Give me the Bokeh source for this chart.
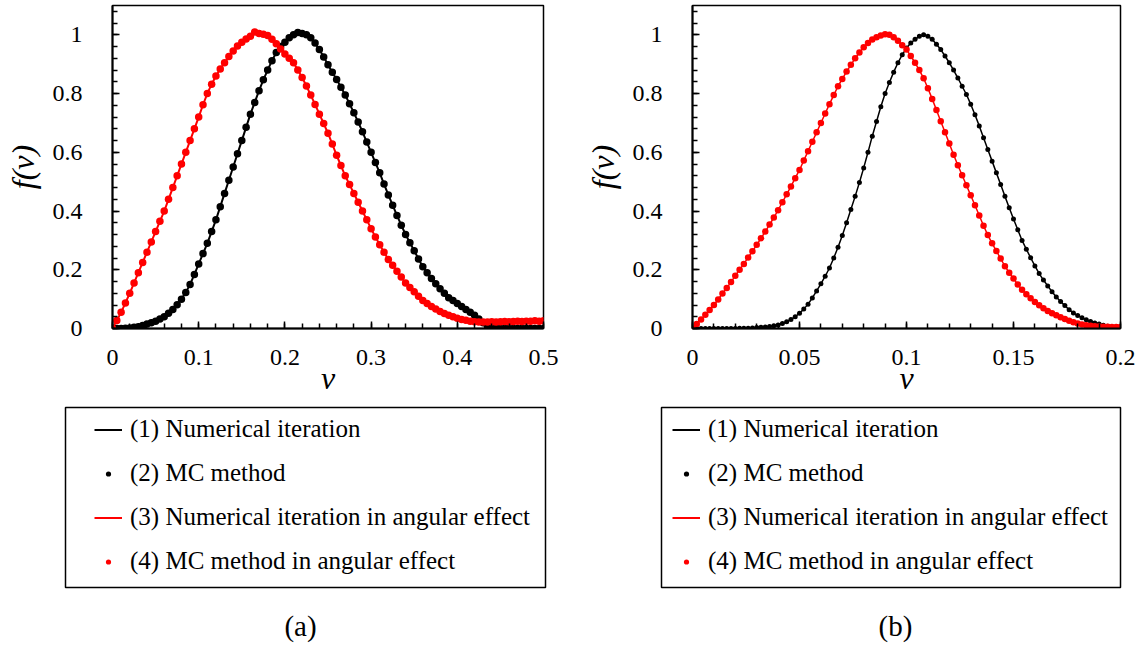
from bokeh.plotting import figure
from bokeh.models import (Range1d, FixedTicker, CustomJSTickFormatter, Legend,
                          LegendItem, Label)
from bokeh.layouts import row, column
from bokeh.embed import file_html
from bokeh.resources import INLINE

FONT = "Liberation Serif"

# ---------------- data: panel (a) ----------------
v_a = [round(i * 0.005, 3) for i in range(101)]
num_a = [
    0.000, 0.000, 0.000, 0.001, 0.002, 0.004, 0.006, 0.010, 0.015, 0.020,
    0.025, 0.032, 0.040, 0.052, 0.065, 0.081, 0.100, 0.123, 0.150, 0.184,
    0.220, 0.255, 0.290, 0.330, 0.370, 0.415, 0.460, 0.505, 0.550, 0.595,
    0.640, 0.685, 0.730, 0.770, 0.810, 0.847, 0.880, 0.912, 0.940, 0.960,
    0.975, 0.990, 1.000, 1.008, 1.005, 1.000, 0.990, 0.972, 0.950, 0.925,
    0.898, 0.873, 0.848, 0.822, 0.795, 0.765, 0.735, 0.703, 0.670, 0.635,
    0.600, 0.565, 0.530, 0.492, 0.455, 0.420, 0.385, 0.352, 0.320, 0.292,
    0.265, 0.237, 0.210, 0.190, 0.170, 0.152, 0.135, 0.120, 0.105, 0.095,
    0.085, 0.075, 0.065, 0.055, 0.045, 0.032, 0.020, 0.008, 0.000, 0.000,
    0.000, 0.000, 0.000, 0.000, 0.000, 0.000, 0.000, 0.000, 0.000, 0.000,
    0.000,
]
mc_a = list(num_a)
num_ang_a = [
    0.000, 0.027, 0.055, 0.087, 0.120, 0.155, 0.190, 0.225, 0.260, 0.295,
    0.330, 0.365, 0.400, 0.440, 0.480, 0.520, 0.560, 0.600, 0.640, 0.680,
    0.720, 0.762, 0.800, 0.832, 0.860, 0.884, 0.905, 0.926, 0.945, 0.962,
    0.975, 0.986, 0.995, 1.010, 1.005, 1.002, 0.998, 0.985, 0.970, 0.952,
    0.935, 0.920, 0.905, 0.880, 0.855, 0.826, 0.795, 0.763, 0.730, 0.698,
    0.665, 0.628, 0.590, 0.555, 0.520, 0.490, 0.460, 0.430, 0.400, 0.370,
    0.340, 0.312, 0.285, 0.260, 0.235, 0.215, 0.195, 0.175, 0.155, 0.140,
    0.125, 0.110, 0.095, 0.085, 0.075, 0.066, 0.058, 0.051, 0.045, 0.040,
    0.035, 0.031, 0.028, 0.025, 0.023, 0.022, 0.022, 0.022, 0.023, 0.022,
    0.023, 0.024, 0.023, 0.024, 0.025, 0.024, 0.025, 0.025, 0.026, 0.025,
    0.026,
]
mc_ang_a = list(num_ang_a)

# ---------------- data: panel (b) ----------------
v_b = [round(i * 0.002, 3) for i in range(101)]
num_b = [
    0.000, 0.000, 0.000, 0.000, 0.000, 0.000, 0.000, 0.000, 0.000, 0.000,
    0.000, 0.001, 0.001, 0.001, 0.002, 0.003, 0.004, 0.005, 0.007, 0.009,
    0.012, 0.017, 0.023, 0.031, 0.040, 0.052, 0.066, 0.083, 0.104, 0.128,
    0.152, 0.178, 0.206, 0.240, 0.277, 0.317, 0.360, 0.405, 0.450, 0.497,
    0.547, 0.600, 0.655, 0.705, 0.755, 0.800, 0.838, 0.873, 0.905, 0.932,
    0.955, 0.972, 0.985, 0.995, 1.000, 0.995, 0.985, 0.968, 0.950, 0.928,
    0.905, 0.880, 0.853, 0.825, 0.797, 0.764, 0.728, 0.690, 0.650, 0.610,
    0.570, 0.530, 0.490, 0.450, 0.411, 0.373, 0.336, 0.300, 0.270, 0.241,
    0.213, 0.187, 0.165, 0.145, 0.125, 0.107, 0.092, 0.078, 0.064, 0.053,
    0.044, 0.037, 0.030, 0.024, 0.019, 0.015, 0.011, 0.008, 0.005, 0.002,
    0.000,
]
mc_b = list(num_b)
num_ang_b = [
    0.000, 0.015, 0.031, 0.047, 0.063, 0.080, 0.099, 0.119, 0.138, 0.158,
    0.180, 0.200, 0.220, 0.242, 0.263, 0.285, 0.307, 0.330, 0.354, 0.378,
    0.403, 0.430, 0.457, 0.484, 0.512, 0.540, 0.572, 0.604, 0.636, 0.668,
    0.700, 0.732, 0.764, 0.795, 0.825, 0.850, 0.875, 0.898, 0.920, 0.940,
    0.958, 0.972, 0.984, 0.992, 0.998, 1.002, 1.000, 0.992, 0.980, 0.965,
    0.950, 0.928, 0.905, 0.880, 0.852, 0.818, 0.782, 0.744, 0.706, 0.668,
    0.630, 0.592, 0.556, 0.522, 0.488, 0.454, 0.420, 0.385, 0.350, 0.318,
    0.290, 0.264, 0.238, 0.212, 0.190, 0.170, 0.150, 0.132, 0.117, 0.103,
    0.090, 0.079, 0.069, 0.060, 0.052, 0.045, 0.038, 0.032, 0.026, 0.021,
    0.017, 0.014, 0.011, 0.009, 0.008, 0.007, 0.006, 0.006, 0.005, 0.005,
    0.005,
]
mc_ang_b = list(num_ang_b)

# ---------------- ticks / labels ----------------
yticks = [0, 0.2, 0.4, 0.6, 0.8, 1.0]
xticks_a = [0, 0.1, 0.2, 0.3, 0.4, 0.5]
xticks_b = [0, 0.05, 0.1, 0.15, 0.2]
legend_labels = [
    "(1) Numerical iteration",
    "(2) MC method",
    "(3) Numerical iteration in angular effect",
    "(4) MC method in angular effect",
]
panel_labels = ["(a)", "(b)"]

fmt_code = "return String(Math.round(tick * 1000) / 1000);"

TOP_H = 405


def style_axis(ax, standoff, label_standoff):
    ax.major_tick_in = 7
    ax.major_tick_out = 0
    ax.minor_tick_in = 5
    ax.minor_tick_out = 0
    ax.axis_line_width = 2
    ax.axis_line_color = "black"
    ax.major_tick_line_width = 1.5
    ax.minor_tick_line_width = 1.5
    ax.major_tick_line_color = "black"
    ax.minor_tick_line_color = "black"
    ax.major_label_text_font = FONT
    ax.major_label_text_font_size = "24px"
    ax.major_label_text_color = "black"
    ax.major_label_standoff = standoff
    ax.axis_label_text_font = FONT
    ax.axis_label_text_font_style = "italic"
    ax.axis_label_text_font_size = "32px"
    ax.axis_label_text_color = "black"
    ax.axis_label_standoff = label_standoff
    ax.formatter = CustomJSTickFormatter(code=fmt_code)


def make_plot(v, num, mc, num_ang, mc_ang, xmax, xticks, xminor, width,
              border_right, dot_black, dot_red, lw):
    p = figure(width=width, height=TOP_H, x_range=Range1d(0, xmax),
               y_range=Range1d(0, 1.1), min_border_left=112,
               min_border_right=border_right, min_border_top=5,
               min_border_bottom=TOP_H - 328, toolbar_location=None,
               output_backend="svg")
    p.grid.visible = False
    p.outline_line_color = "black"
    p.outline_line_width = 1.5
    p.outline_line_alpha = 1
    p.line(v, num, line_color="black", line_width=lw)
    p.scatter(v, mc, size=dot_black, fill_color="black", line_color=None)
    p.line(v, num_ang, line_color="red", line_width=lw)
    p.scatter(v, mc_ang, size=dot_red, fill_color="red", line_color=None)

    p.xaxis.ticker = FixedTicker(ticks=xticks, minor_ticks=xminor)
    p.yaxis.ticker = FixedTicker(ticks=yticks,
                                 minor_ticks=[round(i * 0.04, 2) for i in range(28)])
    p.xaxis.axis_label = "v"
    p.yaxis.axis_label = "f(v)"
    style_axis(p.xaxis[0], 21, -8)
    style_axis(p.yaxis[0], 30, 9)
    return p


def make_legend_fig(width, box_left, box_right, leg_x, label_x, label_text):
    h = 645 - TOP_H
    lf = figure(width=width, height=h, x_range=Range1d(0, width),
                y_range=Range1d(0, h), min_border=0,
                x_axis_location=None, y_axis_location=None,
                toolbar_location=None, output_backend="svg",
                outline_line_color=None)
    lf.grid.visible = False
    top = h - 2
    lf.quad(left=[box_left], right=[box_right], top=[top], bottom=[top - 180],
            fill_color=None, line_color="black", line_width=1.5)
    # legend-sample renderers: one point each, placed off the visible range
    r1 = lf.line(x=[-1000, -999], y=[-1000, -1000], line_color="black", line_width=2)
    r2 = lf.scatter(x=[-1000], y=[-1000], size=5, fill_color="black", line_color=None)
    r3 = lf.line(x=[-1000, -999], y=[-1000, -1000], line_color="red", line_width=2)
    r4 = lf.scatter(x=[-1000], y=[-1000], size=5, fill_color="red", line_color=None)
    items = [LegendItem(label=lab, renderers=[r])
             for lab, r in zip(legend_labels, [r1, r2, r3, r4])]
    leg = Legend(items=items, location=(leg_x, top - 168), orientation="vertical",
                 border_line_color=None, background_fill_alpha=0,
                 label_text_font=FONT, label_text_font_size="25px",
                 label_text_color="black", glyph_width=28, glyph_height=13,
                 label_height=24, spacing=16, padding=10, label_standoff=8,
                 margin=0)
    lf.add_layout(leg)
    lf.add_layout(Label(x=label_x, y=20, text=label_text, text_align="center",
                        text_baseline="middle", text_font=FONT,
                        text_font_size="29px", text_color="black"))
    return lf


pa = make_plot(v_a, num_a, mc_a, num_ang_a, mc_ang_a, 0.5, xticks_a,
               [round(i * 0.02, 2) for i in range(26)], 580, 37, 7.5, 7.5, 2)
pb = make_plot(v_b, num_b, mc_b, num_ang_b, mc_ang_b, 0.2, xticks_b,
               [round(i * 0.01, 2) for i in range(21)], 566, 26, 5, 6.5, 1.5)

la = make_legend_fig(580, 65, 545, 94, 300, panel_labels[0])
lb = make_legend_fig(566, 81, 540, 92, 315, panel_labels[1])

layout = column(row(pa, pb), row(la, lb))
open("out.html", "w").write(file_html(layout, INLINE))
